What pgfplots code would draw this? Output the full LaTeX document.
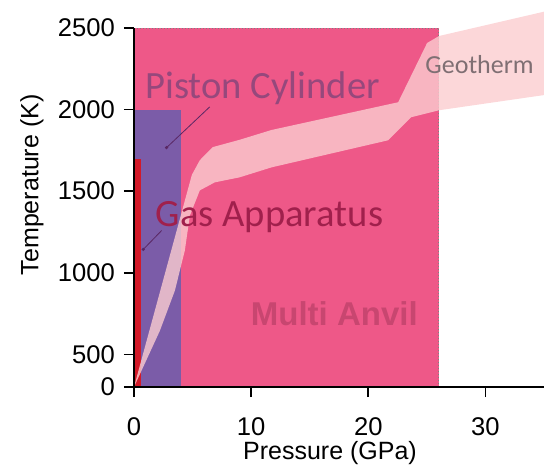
\documentclass[border=0pt]{standalone}
\usepackage{pgfplots}
\pgfplotsset{compat=1.18}
\usepackage{fontspec}
\setmainfont{Liberation Sans}
\newfontfamily\carlito{Carlito}

\definecolor{anvil}{RGB}{238,88,136}
\definecolor{piston}{RGB}{123,92,168}
\definecolor{gasred}{RGB}{210,25,40}
\definecolor{geo}{RGB}{251,205,208}
\definecolor{pistontext}{RGB}{150,72,124}
\definecolor{gastext}{RGB}{160,32,76}
\definecolor{anviltext}{RGB}{200,70,112}
\definecolor{geotext}{RGB}{127,111,115}
\definecolor{pointer}{RGB}{90,40,100}

\begin{document}
\begin{tikzpicture}
\useasboundingbox (-67pt,-42pt) rectangle (205pt,193.5pt);
\begin{axis}[
  scale only axis,
  width=205pt, height=179.5pt,
  xmin=0, xmax=35, ymin=300, ymax=2500,
  axis lines=left,
  axis line style={-, line width=0.8pt},
  axis on top,
  clip=false,
  tick align=outside,
  major tick length=5pt,
  tick style={line width=0.8pt, black},
  xtick={0,10,20,30},
  ytick={300,500,1000,1500,2000,2500},
  yticklabels={0,500,1000,1500,2000,2500},
  tick label style={font=\fontsize{12.8}{14}\selectfont},
  /pgf/number format/assume math mode=true,
  yticklabel style={xshift=-1pt},
  xticklabel style={yshift=-7pt},
  label style={font=\fontsize{12.5}{14}\selectfont},
  xlabel={Pressure (GPa)},
  ylabel={Temperature (K)},
  xlabel style={at={(axis description cs:0.478,0)}, anchor=center, yshift=-33pt},
  ylabel style={at={(axis description cs:-0.249,0.563)}, anchor=center},
]
% Multi-anvil press range
\addplot[fill=anvil, draw=none] coordinates {(0,300) (26,300) (26,2500) (0,2500)} -- cycle;
\addplot[densely dotted, gray, line width=0.5pt] coordinates {(0,2500) (26,2500) (26,300)};
% Piston cylinder range
\addplot[fill=piston, draw=none] coordinates {(0,300) (4,300) (4,2000) (0,2000)} -- cycle;
% Gas apparatus range
\addplot[fill=gasred, draw=none] coordinates {(0,300) (0.6,300) (0.6,1700) (0,1700)} -- cycle;
% Geotherm band: upper edge, then lower edge back to the origin
\addplot[fill=geo, fill opacity=0.8, draw=none] coordinates {
  (0,300) (4.94,1600) (5.62,1690) (6.72,1770) (9.02,1815) (11.74,1875)
  (22.55,2045) (25.02,2408) (26.04,2451) (35,2600)
  (35,2089) (26.04,1996) (23.66,1953) (21.7,1812) (11.74,1646)
  (9.02,1585) (6.89,1554) (5.62,1505) (4.77,1351) (4.34,1137)
  (3.49,891) (2.21,645) (0,300)
} -- cycle;
% Labels and pointers
\node[anchor=base, text=pistontext, font=\carlito\fontsize{19.3}{21}\selectfont]
  at (axis cs:10.98,2070) {Piston Cylinder};
\node[anchor=base, text=gastext, font=\carlito\fontsize{19.3}{21}\selectfont]
  at (axis cs:11.57,1284) {Gas Apparatus};
\node[anchor=base, text=anviltext, font=\bfseries\fontsize{16.5}{18}\selectfont]
  at (axis cs:17.1,676) {Multi Anvil};
\node[anchor=base, text=geotext, font=\carlito\fontsize{13}{15}\selectfont]
  at (axis cs:29.5,2224) {Geotherm};
\draw[pointer, line width=0.4pt] (axis cs:6.47,2017) -- (axis cs:2.78,1767);
\fill[pointer] (axis cs:2.78,1767) circle (0.9pt);
\draw[pointer, line width=0.4pt] (axis cs:2.36,1259) -- (axis cs:0.79,1143);
\fill[pointer] (axis cs:0.79,1143) circle (0.9pt);
\end{axis}
\end{tikzpicture}
\end{document}
